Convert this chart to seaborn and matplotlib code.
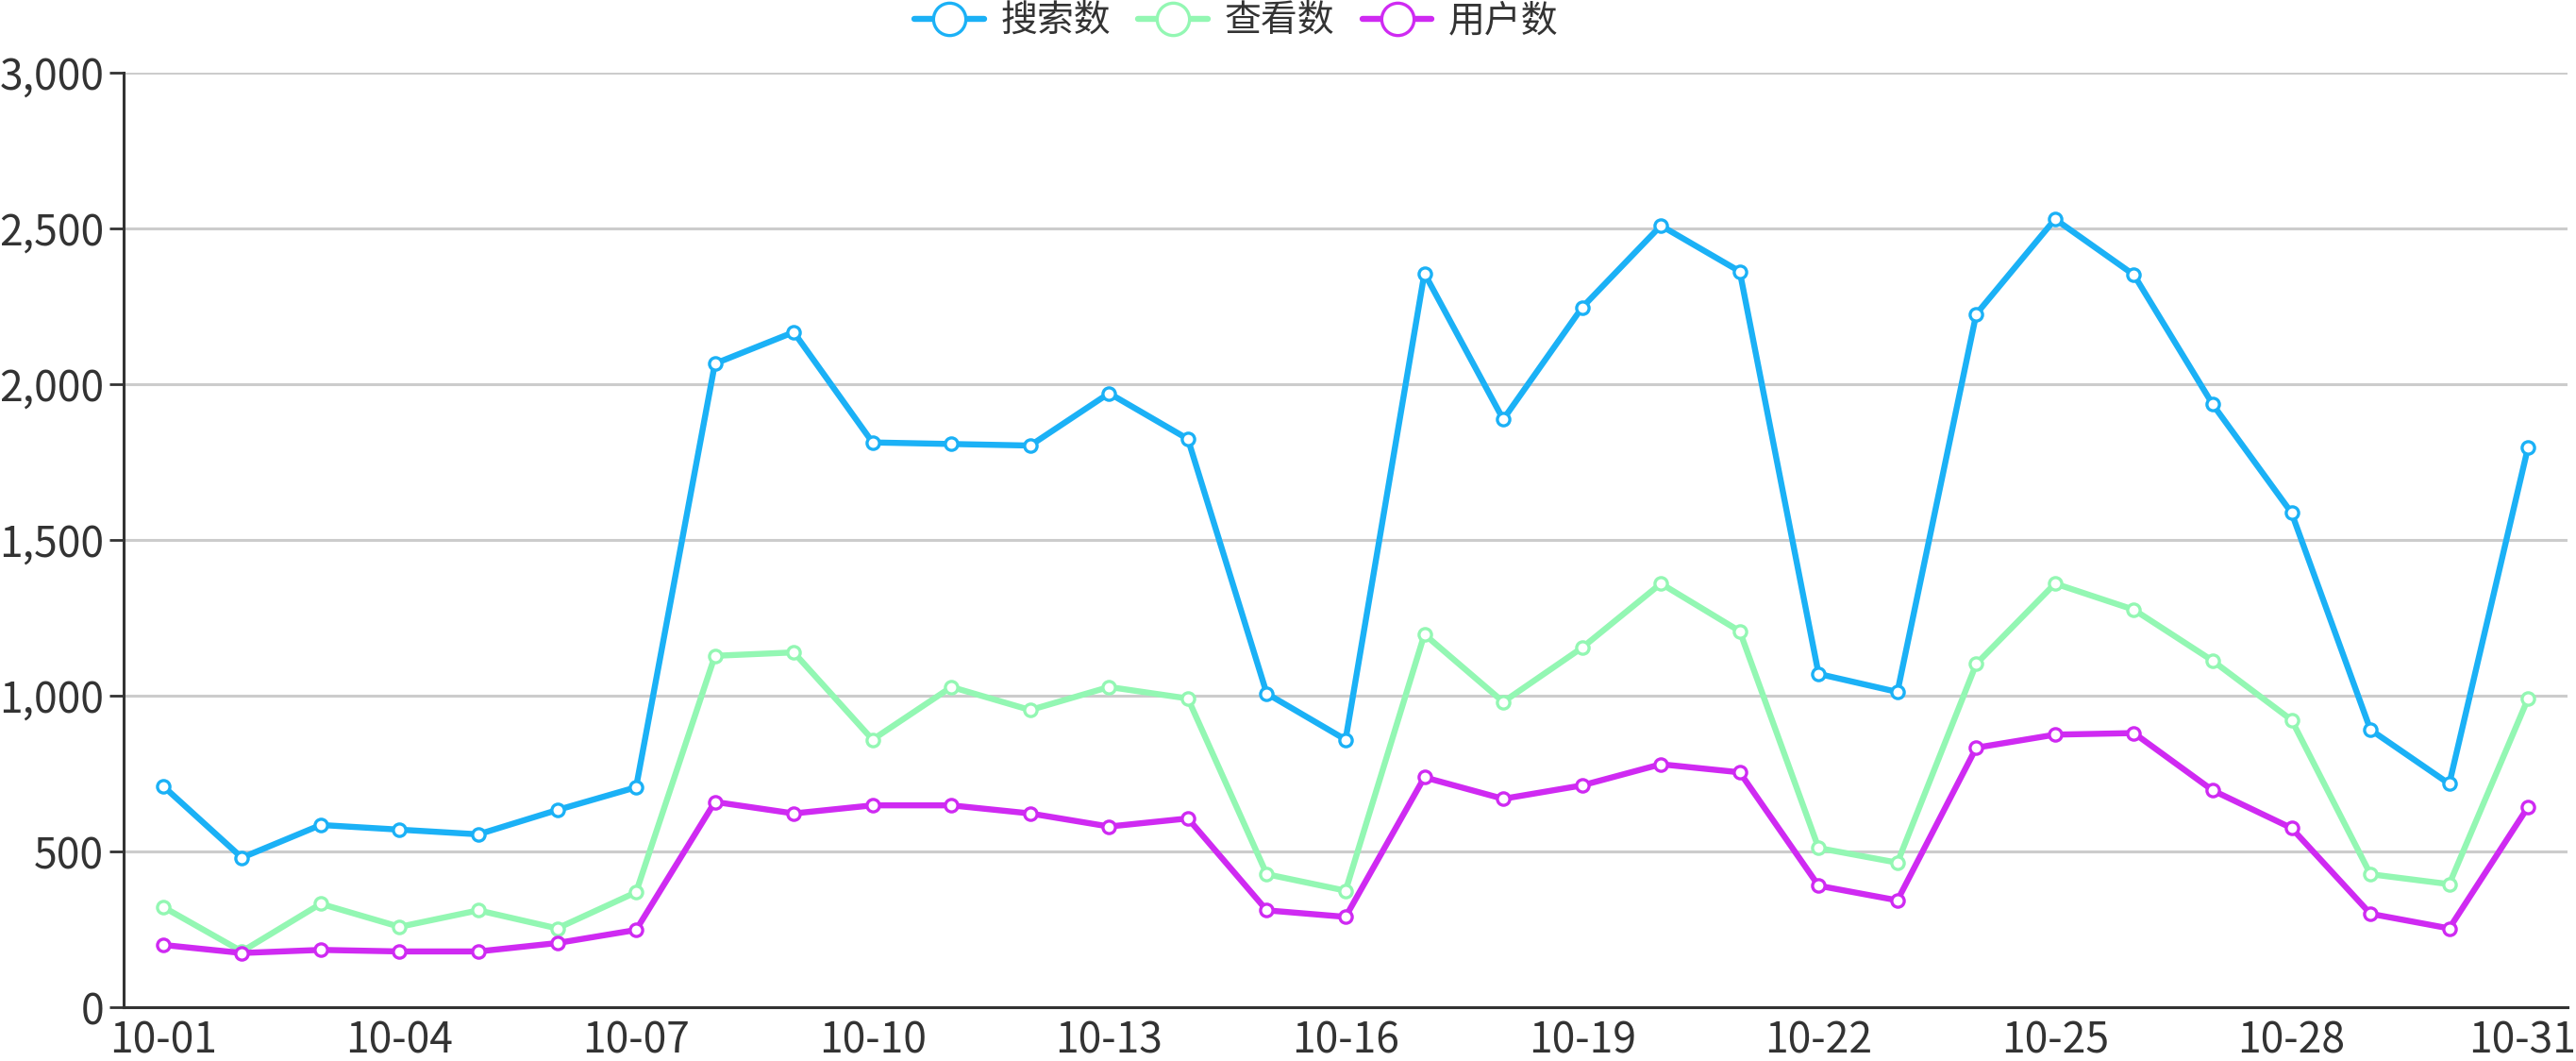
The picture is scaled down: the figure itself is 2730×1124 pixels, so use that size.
import matplotlib
matplotlib.use("Agg")
import matplotlib.pyplot as plt
import matplotlib.ticker as mticker
import matplotlib.transforms as mtransforms
import numpy as np
import pandas as pd
import seaborn as sns

sns.set_theme(style="white")
plt.rcParams['font.family'] = ['Noto Sans CJK SC', 'DejaVu Sans']

# дані
dates = ['10-%02d' % d for d in range(1, 32)]
search = [710, 480, 585, 570, 555, 633, 706, 2066, 2167, 1813, 1808, 1803, 1971, 1824, 1007, 859,
          2356, 1887, 2246, 2509, 2362, 1070, 1012, 2225, 2530, 2351, 1935, 1587, 891, 717, 1798]
views = [322, 179, 332, 258, 311, 253, 369, 1128, 1139, 859, 1028, 954, 1028, 991, 427, 374,
         1197, 980, 1154, 1360, 1207, 511, 464, 1102, 1360, 1276, 1112, 922, 427, 395, 991]
users = [200, 174, 184, 179, 179, 206, 248, 659, 622, 648, 648, 622, 580, 606, 311, 290,
         738, 669, 712, 780, 754, 390, 343, 833, 875, 880, 696, 575, 300, 253, 643]
names = ['搜索数', '查看数', '用户数']
colors = ['#1BB1F6', '#93F7B3', '#CF2AF2']

df = pd.DataFrame({'idx': np.arange(len(dates)), 'date': dates,
                   names[0]: search, names[1]: views, names[2]: users})

fig = plt.figure(figsize=(27.3, 11.24), dpi=100)
ax = fig.add_axes([0.048, 0.0507, 0.9487, 0.8808])

# синя зверху
for name, col, z in zip(names, colors, [4, 2, 3]):
    sns.lineplot(data=df, x='idx', y=name, ax=ax, label=name, color=col, linewidth=4.6,
                 marker='o', markersize=9.5, markerfacecolor='white', markeredgecolor=col,
                 markeredgewidth=2.4, zorder=z)

ax.set_xlim(-0.5, len(dates) - 0.5)
ax.set_ylim(0, 3000)
ax.set_xlabel('')
ax.set_ylabel('')

# осі
ax.set_yticks(np.arange(0, 3001, 500))
ax.yaxis.set_major_formatter(mticker.FuncFormatter(lambda v, p: f'{int(v):,}'))
ax.grid(axis='y', color='#cccccc', linewidth=2.2)
ax.grid(axis='x', visible=False)
ax.set_axisbelow(True)

ax.set_xticks(np.arange(-0.5, len(dates), 1.0))
ax.set_xticklabels([])
ax.set_xticks(np.arange(0, len(dates), 3), minor=True)
ax.set_xticklabels(dates[::3], minor=True)
ax.tick_params(axis='x', which='major', length=10, width=2, color='#333333', direction='out')
ax.tick_params(axis='x', which='minor', length=0, pad=9, labelsize=32, labelcolor='#333333')
ax.tick_params(axis='y', length=11, width=2, color='#333333', pad=4, labelsize=32,
               labelcolor='#333333', left=True)

# останній підпис трохи лівіше, щоб не обрізався
last = ax.get_xticklabels(minor=True)[-1]
last.set_transform(last.get_transform() + mtransforms.ScaledTranslation(-6 / 100, 0, fig.dpi_scale_trans))

for s in ['top', 'right']:
    ax.spines[s].set_visible(False)
for s in ['left', 'bottom']:
    ax.spines[s].set_color('#333333')
    ax.spines[s].set_linewidth(2.2)

handles, labels = ax.get_legend_handles_labels()
order = [labels.index(n) for n in names]
if ax.get_legend() is not None:
    ax.get_legend().remove()
leg = fig.legend([handles[i] for i in order], [labels[i] for i in order],
                 loc='upper center', bbox_to_anchor=(0.48, 1.005), ncol=3, frameon=False,
                 fontsize=28, handlelength=1.9, handletextpad=0.45, columnspacing=0.75,
                 markerscale=2.6, labelcolor='#333333', borderaxespad=0.1, borderpad=0.1)

fig.savefig('out.png', dpi=100)
